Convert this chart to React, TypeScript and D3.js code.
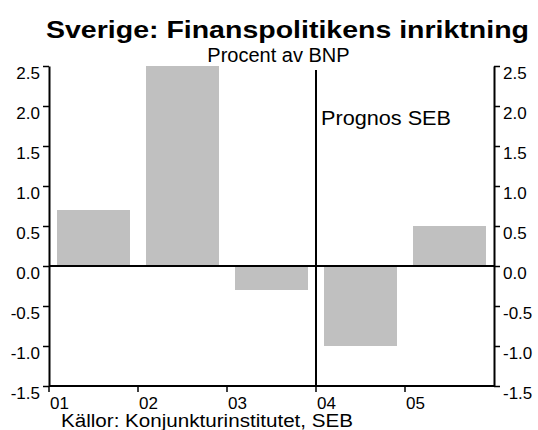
import React, { useEffect, useRef } from "react";
import * as d3 from "d3";

const years = ["01", "02", "03", "04", "05"];
const balance = [0.7, 2.5, -0.3, -1.0, 0.5];
const yTicks = [-1.5, -1.0, -0.5, 0.0, 0.5, 1.0, 1.5, 2.0, 2.5];
const forecastFrom = "04";

const FONT = "'Liberation Sans', Arial, sans-serif";

const App: React.FC = () => {
  const chartRef = useRef<SVGSVGElement | null>(null);

  useEffect(() => {
    const root = d3.select(chartRef.current);
    root.selectAll("*").remove();

    const width = 538;
    const height = 430;
    const margin = { top: 66, right: 44, bottom: 44, left: 49 };
    const innerW = width - margin.left - margin.right;
    const innerH = height - margin.top - margin.bottom;

    root.attr("width", width).attr("height", height);

    const svg = root
      .append("g")
      .attr("transform", `translate(${margin.left},${margin.top})`);

    const x = d3
      .scaleBand()
      .domain(years)
      .range([0, innerW])
      .paddingInner(0.18)
      .paddingOuter(0.09);

    // category boundaries, where the x ticks sit
    const edge = (d: string) => (x(d) ?? 0) - x.step() * 0.09;

    const y = d3.scaleLinear().domain([-1.5, 2.5]).range([innerH, 0]);

    svg
      .selectAll("rect")
      .data(balance)
      .enter()
      .append("rect")
      .attr("x", (_, i) => x(years[i]) ?? 0)
      .attr("y", (d) => y(Math.max(0, d)))
      .attr("width", x.bandwidth())
      .attr("height", (d) => Math.abs(y(d) - y(0)))
      .attr("fill", "#c0c0c0");

    const fmt = (d: d3.NumberValue) => (+d).toFixed(1);

    const styleAxis = (g: d3.Selection<SVGGElement, unknown, null, undefined>) => {
      g.select(".domain").attr("stroke", "#000").attr("stroke-width", 2);
      g.selectAll(".tick line").attr("stroke", "#000").attr("stroke-width", 1.5);
      g.selectAll(".tick text")
        .attr("fill", "#000")
        .attr("font-family", FONT)
        .attr("font-size", 17)
        .attr("dy", "0.71em");
    };

    const left = svg
      .append("g")
      .call(
        d3.axisLeft(y).tickValues(yTicks).tickFormat(fmt).tickSize(6).tickSizeOuter(0).tickPadding(3)
      );
    styleAxis(left);

    const right = svg
      .append("g")
      .attr("transform", `translate(${innerW},0)`)
      .call(
        d3.axisRight(y).tickValues(yTicks).tickFormat(fmt).tickSize(6).tickSizeOuter(0).tickPadding(3)
      );
    styleAxis(right);

    // bottom axis, ticks on the category edges
    const bottom = svg.append("g").attr("transform", `translate(0,${innerH})`);
    bottom
      .append("line")
      .attr("x1", 0)
      .attr("x2", innerW)
      .attr("stroke", "#000")
      .attr("stroke-width", 2);
    const bt = bottom
      .selectAll("g.tick")
      .data(years)
      .enter()
      .append("g")
      .attr("class", "tick")
      .attr("transform", (d) => `translate(${edge(d)},0)`);
    bt.append("line").attr("y2", 6).attr("stroke", "#000").attr("stroke-width", 1.5);
    bt.append("text")
      .attr("x", 1)
      .attr("y", 23)
      .attr("font-family", FONT)
      .attr("font-size", 17)
      .text((d) => d);

    // zero line
    svg
      .append("line")
      .attr("x1", 0)
      .attr("x2", innerW)
      .attr("y1", y(0))
      .attr("y2", y(0))
      .attr("stroke", "#000")
      .attr("stroke-width", 2);

    // forecast divider
    const fx = edge(forecastFrom);
    svg
      .append("line")
      .attr("x1", fx)
      .attr("x2", fx)
      .attr("y1", 4)
      .attr("y2", innerH)
      .attr("stroke", "#000")
      .attr("stroke-width", 2);
    svg
      .append("text")
      .attr("x", fx + 5)
      .attr("y", 59)
      .attr("font-family", FONT)
      .attr("font-size", 20)
      .attr("textLength", 130)
      .attr("lengthAdjust", "spacingAndGlyphs")
      .text("Prognos SEB");

    root
      .append("text")
      .attr("x", 46)
      .attr("y", 38)
      .attr("font-family", FONT)
      .attr("font-weight", "bold")
      .attr("font-size", 24)
      .attr("textLength", 483)
      .attr("lengthAdjust", "spacingAndGlyphs")
      .text("Sverige: Finanspolitikens inriktning");

    root
      .append("text")
      .attr("x", 278.5)
      .attr("y", 62)
      .attr("text-anchor", "middle")
      .attr("font-family", FONT)
      .attr("font-size", 20)
      .text("Procent av BNP");

    root
      .append("text")
      .attr("x", 61)
      .attr("y", 427)
      .attr("font-family", FONT)
      .attr("font-size", 18)
      .attr("textLength", 292)
      .attr("lengthAdjust", "spacingAndGlyphs")
      .text("Källor: Konjunkturinstitutet, SEB");
  }, []);

  return (
    <svg
      ref={chartRef}
      style={{ position: "absolute", left: 0, top: 0, background: "#fff" }}
    ></svg>
  );
};

export default App;
